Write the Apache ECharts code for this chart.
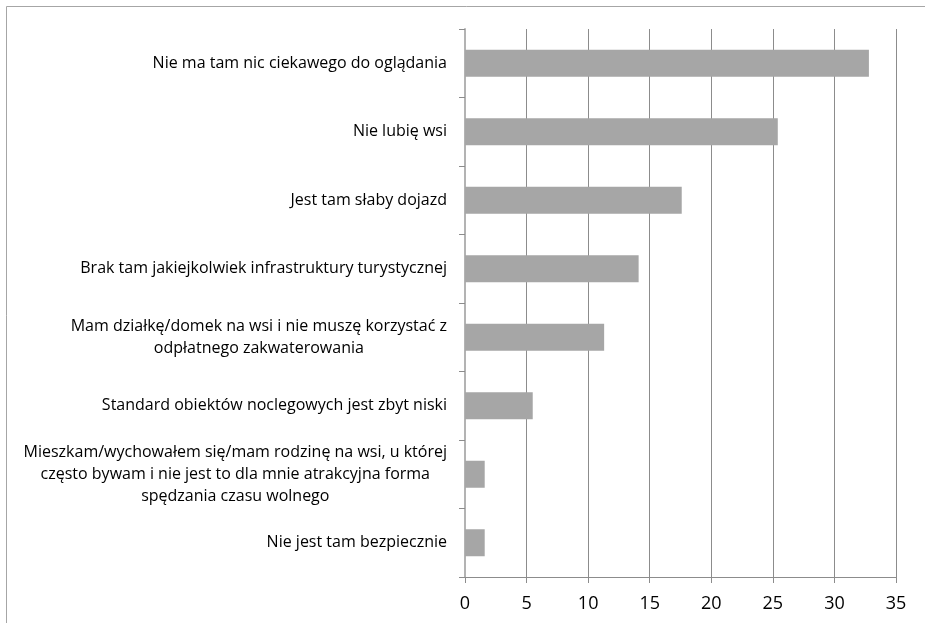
<!DOCTYPE html>
<html>
<head>
<meta charset="utf-8">
<style>
  html, body { margin: 0; padding: 0; background: #ffffff; }
  #chart { width: 925px; height: 623px; }
</style>
<script src="https://cdn.jsdelivr.net/npm/echarts@6/dist/echarts.min.js"></script>
</head>
<body>
<div id="chart"></div>
<script>
// Reasons given, listed top to bottom
const categories = [
  'Nie ma tam nic ciekawego do oglądania',
  'Nie lubię wsi',
  'Jest tam słaby dojazd',
  'Brak tam jakiejkolwiek infrastruktury turystycznej',
  'Mam działkę/domek na wsi i nie muszę korzystać z\nodpłatnego zakwaterowania',
  'Standard obiektów noclegowych jest zbyt niski',
  'Mieszkam/wychowałem się/mam rodzinę na wsi, u której\nczęsto bywam i nie jest to dla mnie atrakcyjna forma\nspędzania czasu wolnego',
  'Nie jest tam bezpiecznie'
];
const values = [32.8, 25.4, 17.6, 14.1, 11.3, 5.5, 1.6, 1.6];
const axisMax = 35;
const axisStep = 5;

const chart = echarts.init(document.getElementById('chart'), null, { renderer: 'canvas' });

const FONT = 'Open Sans';

chart.setOption({
  animation: false,
  backgroundColor: '#ffffff',
  graphic: [{
    type: 'rect',
    silent: true,
    shape: { x: 6.5, y: 6.5, width: 1200, height: 1200 },
    style: { fill: 'none', stroke: '#a6a6a6', lineWidth: 1 }
  }],
  grid: { left: 465, right: 29, top: 29, bottom: 46 },
  xAxis: {
    type: 'value',
    min: 0,
    max: axisMax,
    interval: axisStep,
    axisLine: { show: true, lineStyle: { color: '#8c8c8c', width: 1 } },
    axisTick: { show: true, length: 6, lineStyle: { color: '#8c8c8c' } },
    splitLine: { show: true, lineStyle: { color: '#8c8c8c', width: 1 } },
    axisLabel: { margin: 18, color: '#000000', fontFamily: FONT, fontSize: 18 }
  },
  yAxis: {
    type: 'category',
    inverse: true,
    data: categories,
    axisLine: { show: true, onZero: false, lineStyle: { color: '#b3b3b3', width: 2 } },
    axisTick: { show: true, length: 6, lineStyle: { color: '#8c8c8c' } },
    axisLabel: {
      margin: 18,
      color: '#000000',
      fontFamily: FONT,
      fontSize: 16,
      lineHeight: 22,
      formatter: function (v) {
        return v.split('\n').map(function (line) { return '{c|' + line + '}'; }).join('\n');
      },
      rich: { c: { align: 'center', fontFamily: FONT, fontSize: 16, lineHeight: 22, color: '#000000' } }
    }
  },
  series: [{
    type: 'bar',
    data: values,
    barWidth: 27,
    itemStyle: { color: '#a6a6a6' }
  }]
});
</script>
</body>
</html>
